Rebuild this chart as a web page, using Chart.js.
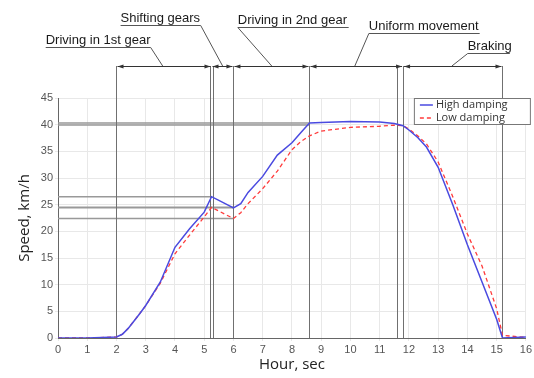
<!DOCTYPE html>
<html>
<head>
<meta charset="utf-8">
<script src="https://cdn.jsdelivr.net/npm/chart.js@4"></script>
<style>
    body { margin: 0; background: #fff; }
    #wrap { width: 534px; height: 378px; }
</style>
</head>
<body>
<div id="wrap"><canvas id="speedChart" width="534" height="378"></canvas></div>
<script>
// Time axis (sec) and measured speed (km/h)
const time = [0, 1, 2, 2.2, 2.4, 2.6, 2.8, 3, 3.5, 4, 4.5, 5, 5.25, 5.5, 5.75, 6, 6.25, 6.5, 7, 7.5, 8, 8.3, 8.6,
    9, 10, 11, 11.5, 11.8, 12, 12.3, 12.6, 13, 13.5, 14, 14.5, 15, 15.2, 16];
const highDamping = [0, 0, 0.2, 0.7, 1.8, 3.2, 4.6, 6.1, 10.5, 17, 20.5, 23.6, 26.5, 25.8, 25.1, 24.4, 25.2, 27.3, 30.3, 34.3, 36.6, 38.5, 40.3,
    40.4, 40.6, 40.5, 40.2, 39.8, 39, 37.6, 35.8, 32, 25, 17.5, 10.5, 3.5, 0, 0.2];
const lowDamping = [0, 0, 0.2, 0.7, 1.8, 3.2, 4.6, 6.1, 10.3, 15.8, 19.3, 22.7, 24.5, 23.8, 23.1, 22.4, 23.5, 25.2, 28, 31.3, 35.3, 36.8, 37.9,
    38.8, 39.5, 39.7, 39.9, 39.8, 39.2, 37.9, 36.4, 33, 26.5, 19.5, 13.5, 5.5, 0.5, 0.1];

const xTicks = [0, 1, 2, 3, 4, 5, 6, 7, 8, 9, 10, 11, 12, 13, 14, 15, 16];
const yTicks = [0, 5, 10, 15, 20, 25, 30, 35, 40, 45];

// Phase boundaries (sec) and guide levels (km/h)
const phaseLines = [2, 5.21, 5.29, 6, 8.6, 11.6, 11.8, 15.2];
const phaseArrows = [[2, 5.25], [5.25, 6], [6, 8.6], [8.6, 11.8], [11.8, 15.2]];
const levelLines = [[26.5, 5.25], [24.5, 6], [24.4, 6], [22.4, 6], [39.95, 8.6], [40.3, 8.6]];

// Phase labels: text, left x, right x (sec), leader end x (sec), text y, underline y (px)
const phaseLabels = [
    ['Driving in 1st gear', -0.42, 3.17, 3.58, 40, 47],
    ['Shifting gears', 2.14, 4.88, 5.63, 18, 25],
    ['Driving in 2nd gear', 6.15, 9.94, 7.31, 20, 27],
    ['Uniform movement', 10.63, 14.42, 10.15, 26, 33],
    ['Braking', 14.01, 15.45, 13.47, 46, 53]
];
const dimY = 66;

const guides = {
    id: 'guides',
    beforeDatasetsDraw(chart) {
        const ctx = chart.ctx;
        const x = chart.scales.x;
        const y = chart.scales.y;
        ctx.save();
        ctx.lineWidth = 1.5;
        ctx.strokeStyle = '#999';
        levelLines.forEach(([v, end]) => {
            const py = y.getPixelForValue(v);
            ctx.beginPath();
            ctx.moveTo(x.left, py);
            ctx.lineTo(x.getPixelForValue(end), py);
            ctx.stroke();
        });
        ctx.lineWidth = 1;
        ctx.strokeStyle = '#707070';
        phaseLines.forEach(v => {
            const px = Math.round(x.getPixelForValue(v)) + 0.5;
            ctx.beginPath();
            ctx.moveTo(px, dimY);
            ctx.lineTo(px, y.bottom);
            ctx.stroke();
        });
        ctx.restore();
    },
    afterDraw(chart) {
        const ctx = chart.ctx;
        const x = chart.scales.x;
        ctx.save();
        ctx.strokeStyle = '#333';
        ctx.fillStyle = '#333';
        ctx.lineWidth = 1;
        // dimension line with arrows
        const arrow = (px, dir) => {
            ctx.beginPath();
            ctx.moveTo(px, dimY + 0.5);
            ctx.lineTo(px - dir * 6, dimY - 1.5);
            ctx.lineTo(px - dir * 6, dimY + 2.5);
            ctx.closePath();
            ctx.fill();
        };
        phaseArrows.forEach(([a, b]) => {
            const pa = x.getPixelForValue(a) + 1;
            const pb = x.getPixelForValue(b) - 1;
            ctx.beginPath();
            ctx.moveTo(pa, dimY + 0.5);
            ctx.lineTo(pb, dimY + 0.5);
            ctx.stroke();
            arrow(pa, -1);
            arrow(pb, 1);
        });
        // labels with underline and leader
        ctx.font = '13px "Liberation Sans", Arial, sans-serif';
        ctx.textBaseline = 'middle';
        ctx.fillStyle = '#1a1a1a';
        ctx.strokeStyle = '#555';
        phaseLabels.forEach(([txt, l, r, lead, ty, uy]) => {
            const pl = x.getPixelForValue(l);
            const pr = x.getPixelForValue(r);
            ctx.fillText(txt, pl, ty);
            ctx.beginPath();
            ctx.moveTo(pl, uy + 0.5);
            ctx.lineTo(pr, uy + 0.5);
            const near = lead > r ? pr : pl;
            ctx.moveTo(near, uy + 0.5);
            ctx.lineTo(x.getPixelForValue(lead), dimY);
            ctx.stroke();
        });
        // legend box
        const lx = chart.chartArea.right - 112;
        const ly = chart.chartArea.top;
        ctx.fillStyle = '#fff';
        ctx.fillRect(lx, ly, 116, 26);
        ctx.strokeStyle = '#777';
        ctx.strokeRect(lx + 0.5, ly + 0.5, 116, 26);
        ctx.font = '11px "Open Sans", "Noto Sans", sans-serif';
        ctx.fillStyle = '#333';
        chart.data.datasets.forEach((ds, i) => {
            const ry = ly + 7 + i * 13;
            ctx.strokeStyle = ds.borderColor;
            ctx.lineWidth = ds.borderWidth;
            ctx.setLineDash(ds.borderDash || []);
            ctx.beginPath();
            ctx.moveTo(lx + 6, ry);
            ctx.lineTo(lx + 19, ry);
            ctx.stroke();
            ctx.setLineDash([]);
            ctx.fillText(ds.label, lx + 22, ry);
        });
        ctx.restore();
    }
};

new Chart(document.getElementById('speedChart'), {
    type: 'line',
    data: {
        labels: time,
        datasets: [{
            label: 'High damping',
            data: highDamping,
            borderColor: '#4a4ae0',
            borderWidth: 1.5,
            pointRadius: 0,
            tension: 0
        }, {
            label: 'Low damping',
            data: lowDamping,
            borderColor: '#ff3b3b',
            borderWidth: 1.3,
            borderDash: [4, 3],
            pointRadius: 0,
            tension: 0
        }]
    },
    options: {
        responsive: false,
        animation: false,
        layout: { padding: { top: 98, right: 8, left: 0, bottom: 0 } },
        plugins: { legend: { display: false }, tooltip: { enabled: false } },
        scales: {
            x: {
                type: 'linear',
                min: 0,
                max: 16,
                afterBuildTicks: s => { s.ticks = xTicks.map(v => ({ value: v })); },
                afterFit: s => { s.height = 40; },
                grid: { color: '#e8e8e8', tickLength: 3 },
                border: { color: '#666' },
                ticks: { color: '#555', padding: 2, font: { size: 11, family: '"Liberation Sans", Arial' } },
                title: {
                    display: true,
                    text: 'Hour, sec',
                    color: '#222',
                    padding: { top: 3 },
                    font: { size: 15, family: '"Open Sans", "Noto Sans", sans-serif' }
                }
            },
            y: {
                min: 0,
                max: 45,
                afterBuildTicks: s => { s.ticks = yTicks.map(v => ({ value: v })); },
                afterFit: s => { s.width = 58; },
                grid: { color: '#e8e8e8', tickLength: 3 },
                border: { color: '#666' },
                ticks: { color: '#555', padding: 2, font: { size: 11, family: '"Liberation Sans", Arial' } },
                title: {
                    display: true,
                    text: 'Speed, km/h',
                    color: '#222',
                    padding: { top: 16, bottom: 4 },
                    font: { size: 15, family: '"Open Sans", "Noto Sans", sans-serif' }
                }
            }
        }
    },
    plugins: [guides]
});
</script>
</body>
</html>
